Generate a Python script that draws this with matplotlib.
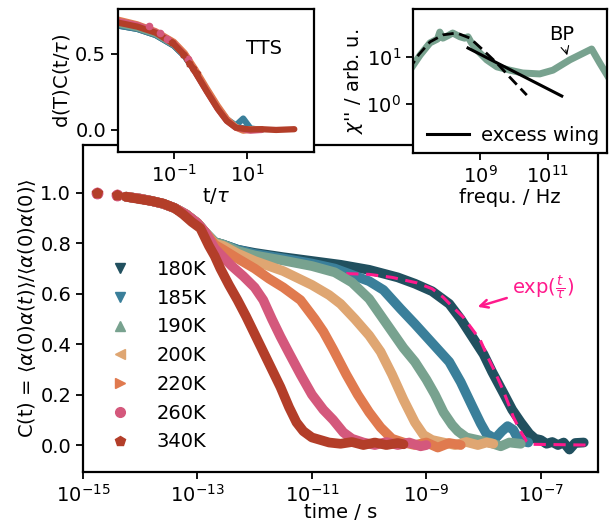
import numpy as np
import matplotlib
matplotlib.use('Agg')
import matplotlib.pyplot as plt
from matplotlib.lines import Line2D
from matplotlib.ticker import NullLocator, LogLocator

plt.rcParams['font.size'] = 14
plt.rcParams['axes.linewidth'] = 1.6
plt.rcParams['xtick.major.width'] = 1.3
plt.rcParams['ytick.major.width'] = 1.3
plt.rcParams['xtick.major.size'] = 5
plt.rcParams['ytick.major.size'] = 5

temps = ['180K', '185K', '190K', '200K', '220K', '260K', '340K']
colors = ['#21505f', '#3a7f9a', '#78a28f', '#dfa672', '#e07a4f', '#d4587c', '#b33e29']
markers = ['v', 'v', '^', '<', '>', 'o', 'p']

# first two (sparse) samples and the common short-time decay, log10(t/s)
lt_dots = [-14.75, -14.4]
c_dots = [1.0, 0.99]
lt_short = [-14.25, -14.0, -13.8, -13.6, -13.4, -13.2, -13.0, -12.85]
c_short = [0.985, 0.977, 0.968, 0.957, 0.94, 0.915, 0.88, 0.84]

lt_180 = [-12.7, -12.55, -12.3, -12.0, -11.5, -11.0, -10.5, -10.0, -9.5, -9.2, -8.9, -8.6, -8.4, -8.2,
          -8.0, -7.85, -7.65, -7.5, -7.35, -7.2, -7.1, -7.0, -6.9, -6.8, -6.7, -6.6, -6.5, -6.4, -6.25]
c_180 = [0.805, 0.795, 0.775, 0.762, 0.745, 0.73, 0.715, 0.695, 0.665, 0.64, 0.61, 0.56, 0.5, 0.43,
         0.36, 0.29, 0.205, 0.14, 0.09, 0.045, 0.025, 0.02, 0.005, 0.012, 0.0, 0.01, -0.018, 0.008, 0.01]

lt_185 = [-12.7, -12.55, -12.3, -12.0, -11.5, -11.0, -10.6, -10.3, -10.0, -9.75, -9.45, -9.2, -9.0, -8.8,
          -8.6, -8.4, -8.2, -8.05, -7.95, -7.8, -7.68, -7.58, -7.48, -7.4, -7.3, -7.22]
c_185 = [0.805, 0.795, 0.775, 0.758, 0.74, 0.72, 0.70, 0.675, 0.65, 0.615, 0.54, 0.48, 0.43, 0.38,
         0.33, 0.25, 0.155, 0.085, 0.045, 0.025, 0.055, 0.075, 0.06, 0.025, 0.015, 0.01]

lt_190 = [-12.7, -12.55, -12.3, -12.0, -11.5, -11.0, -10.6, -10.3, -10.0, -9.8, -9.6, -9.4, -9.2, -9.0,
          -8.85, -8.7, -8.55, -8.45, -8.3, -8.1, -7.9, -7.7, -7.55, -7.35]
c_190 = [0.805, 0.795, 0.77, 0.752, 0.732, 0.71, 0.685, 0.645, 0.58, 0.515, 0.45, 0.385, 0.33, 0.26,
         0.2, 0.13, 0.08, 0.055, 0.03, 0.02, 0.01, -0.005, 0.01, 0.005]

lt_200 = [-12.7, -12.55, -12.3, -12.0, -11.5, -11.0, -10.7, -10.5, -10.25, -10.0, -9.8, -9.6, -9.4,
          -9.2, -9.05, -8.9, -8.7, -8.5, -8.3, -8.1, -7.95, -7.83]
c_200 = [0.8, 0.79, 0.76, 0.73, 0.69, 0.635, 0.595, 0.56, 0.5, 0.435, 0.37, 0.28, 0.18,
         0.09, 0.04, 0.02, 0.01, 0.0, 0.012, 0.0, 0.01, 0.005]

lt_220 = [-12.7, -12.55, -12.3, -12.0, -11.75, -11.5, -11.2, -10.95, -10.8, -10.63, -10.4, -10.2, -10.0,
          -9.8, -9.6, -9.4, -9.2, -9.0, -8.8, -8.6, -8.4]
c_220 = [0.795, 0.775, 0.74, 0.7, 0.66, 0.625, 0.575, 0.5, 0.45, 0.38, 0.28, 0.2, 0.13,
         0.07, 0.025, 0.01, 0.0, 0.01, -0.01, 0.008, 0.0]

lt_260 = [-12.7, -12.55, -12.4, -12.2, -12.0, -11.85, -11.7, -11.55, -11.4, -11.2, -11.0, -10.8, -10.63,
          -10.45, -10.3, -10.1, -9.9, -9.7, -9.5, -9.3, -9.1, -9.0]
c_260 = [0.78, 0.745, 0.71, 0.67, 0.625, 0.575, 0.5, 0.43, 0.365, 0.28, 0.2, 0.14, 0.1,
         0.05, 0.025, 0.01, 0.0, 0.012, 0.0, 0.01, -0.005, 0.0]

lt_340 = [-14.25, -14.0, -13.8, -13.6, -13.4, -13.25, -13.1, -12.95, -12.8, -12.7, -12.6, -12.45, -12.3,
          -12.15, -12.0, -11.85, -11.7, -11.55, -11.4, -11.27, -11.15, -11.0, -10.85, -10.7, -10.5, -10.3,
          -10.1, -9.9, -9.7, -9.5, -9.4]
c_340 = [0.985, 0.975, 0.968, 0.958, 0.94, 0.915, 0.885, 0.86, 0.79, 0.75, 0.7, 0.635, 0.575,
         0.51, 0.44, 0.37, 0.3, 0.23, 0.15, 0.09, 0.055, 0.03, 0.02, 0.01, 0.005, 0.012,
         0.0, 0.01, 0.0, 0.008, 0.003]

# single exponential drawn on top of the 180K data
lt_exp = [-10.4, -10.0, -9.6, -9.16, -8.9, -8.71, -8.55, -8.36, -8.2, -8.06, -7.93, -7.8,
          -7.66, -7.56, -7.48, -7.4, -7.33, -7.25, -7.18, -6.2]
c_exp = [0.68, 0.677, 0.665, 0.643, 0.62, 0.587, 0.55, 0.508, 0.46, 0.417, 0.35, 0.29,
         0.218, 0.16, 0.111, 0.075, 0.045, 0.015, 0.003, 0.0]

# time-temperature superposition, log10(t/tau)
lt_tts = [-2.6, -2.0, -1.5, -1.0, -0.7, -0.4, -0.1, 0.2, 0.45, 0.7, 0.9, 1.1, 1.4, 1.8, 2.3]
nan = np.nan
tts = {
    '180K': [0.69, 0.665, 0.625, 0.555, 0.485, 0.38, 0.265, 0.15, 0.07, 0.02, 0.01, 0.005, 0.003, nan, nan],
    '185K': [0.69, 0.665, 0.625, 0.555, 0.485, 0.38, 0.265, 0.15, 0.07, 0.03, 0.075, 0.01, 0.0, nan, nan],
    '190K': [0.70, 0.67, 0.63, 0.56, 0.49, 0.38, 0.26, 0.145, 0.065, 0.02, 0.005, 0.0, 0.005, nan, nan],
    '200K': [0.72, 0.69, 0.645, 0.575, 0.5, 0.385, 0.265, 0.15, 0.07, 0.02, 0.0, 0.005, 0.0, nan, nan],
    '220K': [0.73, 0.695, 0.65, 0.58, 0.505, 0.395, 0.275, 0.16, 0.075, 0.015, -0.005, 0.0, 0.005, nan, nan],
    '260K': [0.72, 0.69, 0.645, 0.57, 0.49, 0.375, 0.255, 0.14, 0.06, 0.015, 0.005, -0.005, 0.0, nan, nan],
    '340K': [0.71, 0.68, 0.64, 0.565, 0.49, 0.375, 0.255, 0.14, 0.06, 0.015, 0.008, 0.003, 0.005, 0.0, 0.005],
}
lt_tts_260_pts = [-1.68, -1.38, -1.19, -0.62]
c_tts_260_pts = [0.685, 0.64, 0.6, 0.47]
lt_tts_340_pts = [-1.05, -0.75, -0.59, -0.48, -0.37]
c_tts_340_pts = [0.58, 0.5, 0.44, 0.41, 0.375]

# dielectric loss spectrum, log10(f/Hz) and log10(chi'')
lf_chi = [6.94, 7.24, 7.53, 7.75, 7.82, 7.91, 8.05, 8.2, 8.41, 8.55, 8.65, 8.75, 8.91, 9.2, 9.5,
          9.88, 10.26, 10.76, 11.15, 11.65, 12.29, 12.53, 12.8]
lchi = [0.72, 1.04, 1.3, 1.38, 1.53, 1.4, 1.45, 1.51, 1.43, 1.4, 1.43, 1.3, 1.15, 0.94, 0.79,
        0.72, 0.66, 0.64, 0.72, 0.94, 1.17, 0.87, 0.55]
lf_fit = [6.9, 7.2, 7.53, 7.91, 8.32, 8.71, 9.09, 9.5, 9.88, 10.38]
lchi_fit = [0.72, 1.05, 1.32, 1.47, 1.51, 1.4, 1.15, 0.87, 0.57, 0.19]
lf_wing = [8.65, 11.41]
lchi_wing = [1.19, 0.17]

series = {
    '180K': (lt_180, c_180), '185K': (lt_185, c_185), '190K': (lt_190, c_190),
    '200K': (lt_200, c_200), '220K': (lt_220, c_220), '260K': (lt_260, c_260),
}

fig = plt.figure(figsize=(6.15, 5.23), dpi=100)
ax = fig.add_axes([0.135, 0.0975, 0.8374, 0.6252])

for T, col, mk in zip(temps, colors, markers):
    if T in ('260K', '340K'):
        ax.plot(10 ** np.array(lt_dots), c_dots, ls='none', marker=mk, ms=7.5, color=col, zorder=2)
    if T == '340K':
        x, y = lt_340, c_340
    else:
        x = lt_short + series[T][0]
        y = c_short + series[T][1]
    ax.plot(10 ** np.array(x), y, color=col, lw=7, solid_capstyle='round',
            solid_joinstyle='round', zorder=2)
    if T == '185K':
        ax.plot(10 ** np.array(lt_exp), c_exp, color='#ff1a8c', lw=2.2, ls=(0, (4, 2.5)), zorder=2)

ax.set_xscale('log')
ax.set_xlim(1e-15, 1e-6)
ax.set_ylim(-0.107, 1.19)
ax.set_xticks([1e-15, 1e-13, 1e-11, 1e-9, 1e-7])
ax.xaxis.set_minor_locator(NullLocator())
ax.set_yticks([0.0, 0.2, 0.4, 0.6, 0.8, 1.0])
ax.set_xlabel('time / s', labelpad=-2)
ax.set_ylabel(r'C(t) = $\langle\alpha(0)\alpha(t)\rangle/\langle\alpha(0)\alpha(0)\rangle$', labelpad=2)

handles = [Line2D([], [], ls='none', marker=m, color=c, ms=7, label=T)
           for T, c, m in zip(temps, colors, markers)]
ax.legend(handles=handles, loc='upper left', bbox_to_anchor=(0.034, 0.672), frameon=False,
          handlelength=1.2, handletextpad=1.3, labelspacing=0.5, borderaxespad=0.0)

ax.annotate(r'$\exp(\frac{t}{\tau})$', xy=(10 ** -8.15, 0.545), xytext=(10 ** -7.5, 0.627),
            color='#ff1a8c', va='center',
            arrowprops=dict(arrowstyle='->', color='#ff1a8c', lw=1.8))

# inset: master curve
ax1 = fig.add_axes([0.1919, 0.7094, 0.3187, 0.2734])
for T, col in zip(temps, colors):
    ax1.plot(10 ** np.array(lt_tts), tts[T], color=col, lw=4.5, solid_capstyle='round')
ax1.plot(10 ** np.array(lt_tts_260_pts), c_tts_260_pts, 'o', color=colors[5], ms=4.5)
ax1.plot(10 ** np.array(lt_tts_340_pts), c_tts_340_pts, 'p', color=colors[6], ms=5)
ax1.set_xscale('log')
ax1.set_xlim(10 ** -2.53, 10 ** 2.84)
ax1.set_ylim(-0.145, 0.796)
ax1.set_xticks([0.1, 10])
ax1.xaxis.set_minor_locator(NullLocator())
ax1.set_yticks([0.0, 0.5])
ax1.set_xlabel(r't/$\tau$', labelpad=0)
ax1.set_ylabel(r'd(T)C(t/$\tau$)', labelpad=2)
ax1.text(0.745, 0.727, 'TTS', transform=ax1.transAxes, ha='center', va='center')

# inset: susceptibility spectrum
ax2 = fig.add_axes([0.6715, 0.7075, 0.3154, 0.2753])
ax2.plot(10 ** np.array(lf_chi), 10 ** np.array(lchi), color=colors[2], lw=5)
ax2.plot(10 ** np.array(lf_fit), 10 ** np.array(lchi_fit), color='k', lw=2, ls=(0, (4, 2)))
ax2.plot(10 ** np.array(lf_wing), 10 ** np.array(lchi_wing), color='k', lw=2.2, label='excess wing')
ax2.set_xscale('log')
ax2.set_yscale('log')
ax2.set_xlim(10 ** 7.03, 10 ** 12.74)
ax2.set_ylim(10 ** -1.04, 10 ** 2.02)
ax2.set_xticks([1e9, 1e11])
ax2.xaxis.set_minor_locator(NullLocator())
ax2.set_yticks([1, 10])
ax2.yaxis.set_minor_locator(LogLocator(subs=np.arange(2, 10)))
ax2.set_xlabel('frequ. / Hz', labelpad=1)
ax2.set_ylabel(r"$\chi$'' / arb. u.", labelpad=1)
ax2.legend(loc='lower right', frameon=False, handlelength=2.2, handletextpad=0.6,
           borderaxespad=0.1, borderpad=0.3)
ax2.annotate('BP', xy=(10 ** 11.59, 10 ** 0.98), xytext=(10 ** 11.41, 10 ** 1.47),
             ha='center', va='center',
             arrowprops=dict(arrowstyle='->', color='k', lw=0.8))

fig.savefig('out.png', dpi=100)
